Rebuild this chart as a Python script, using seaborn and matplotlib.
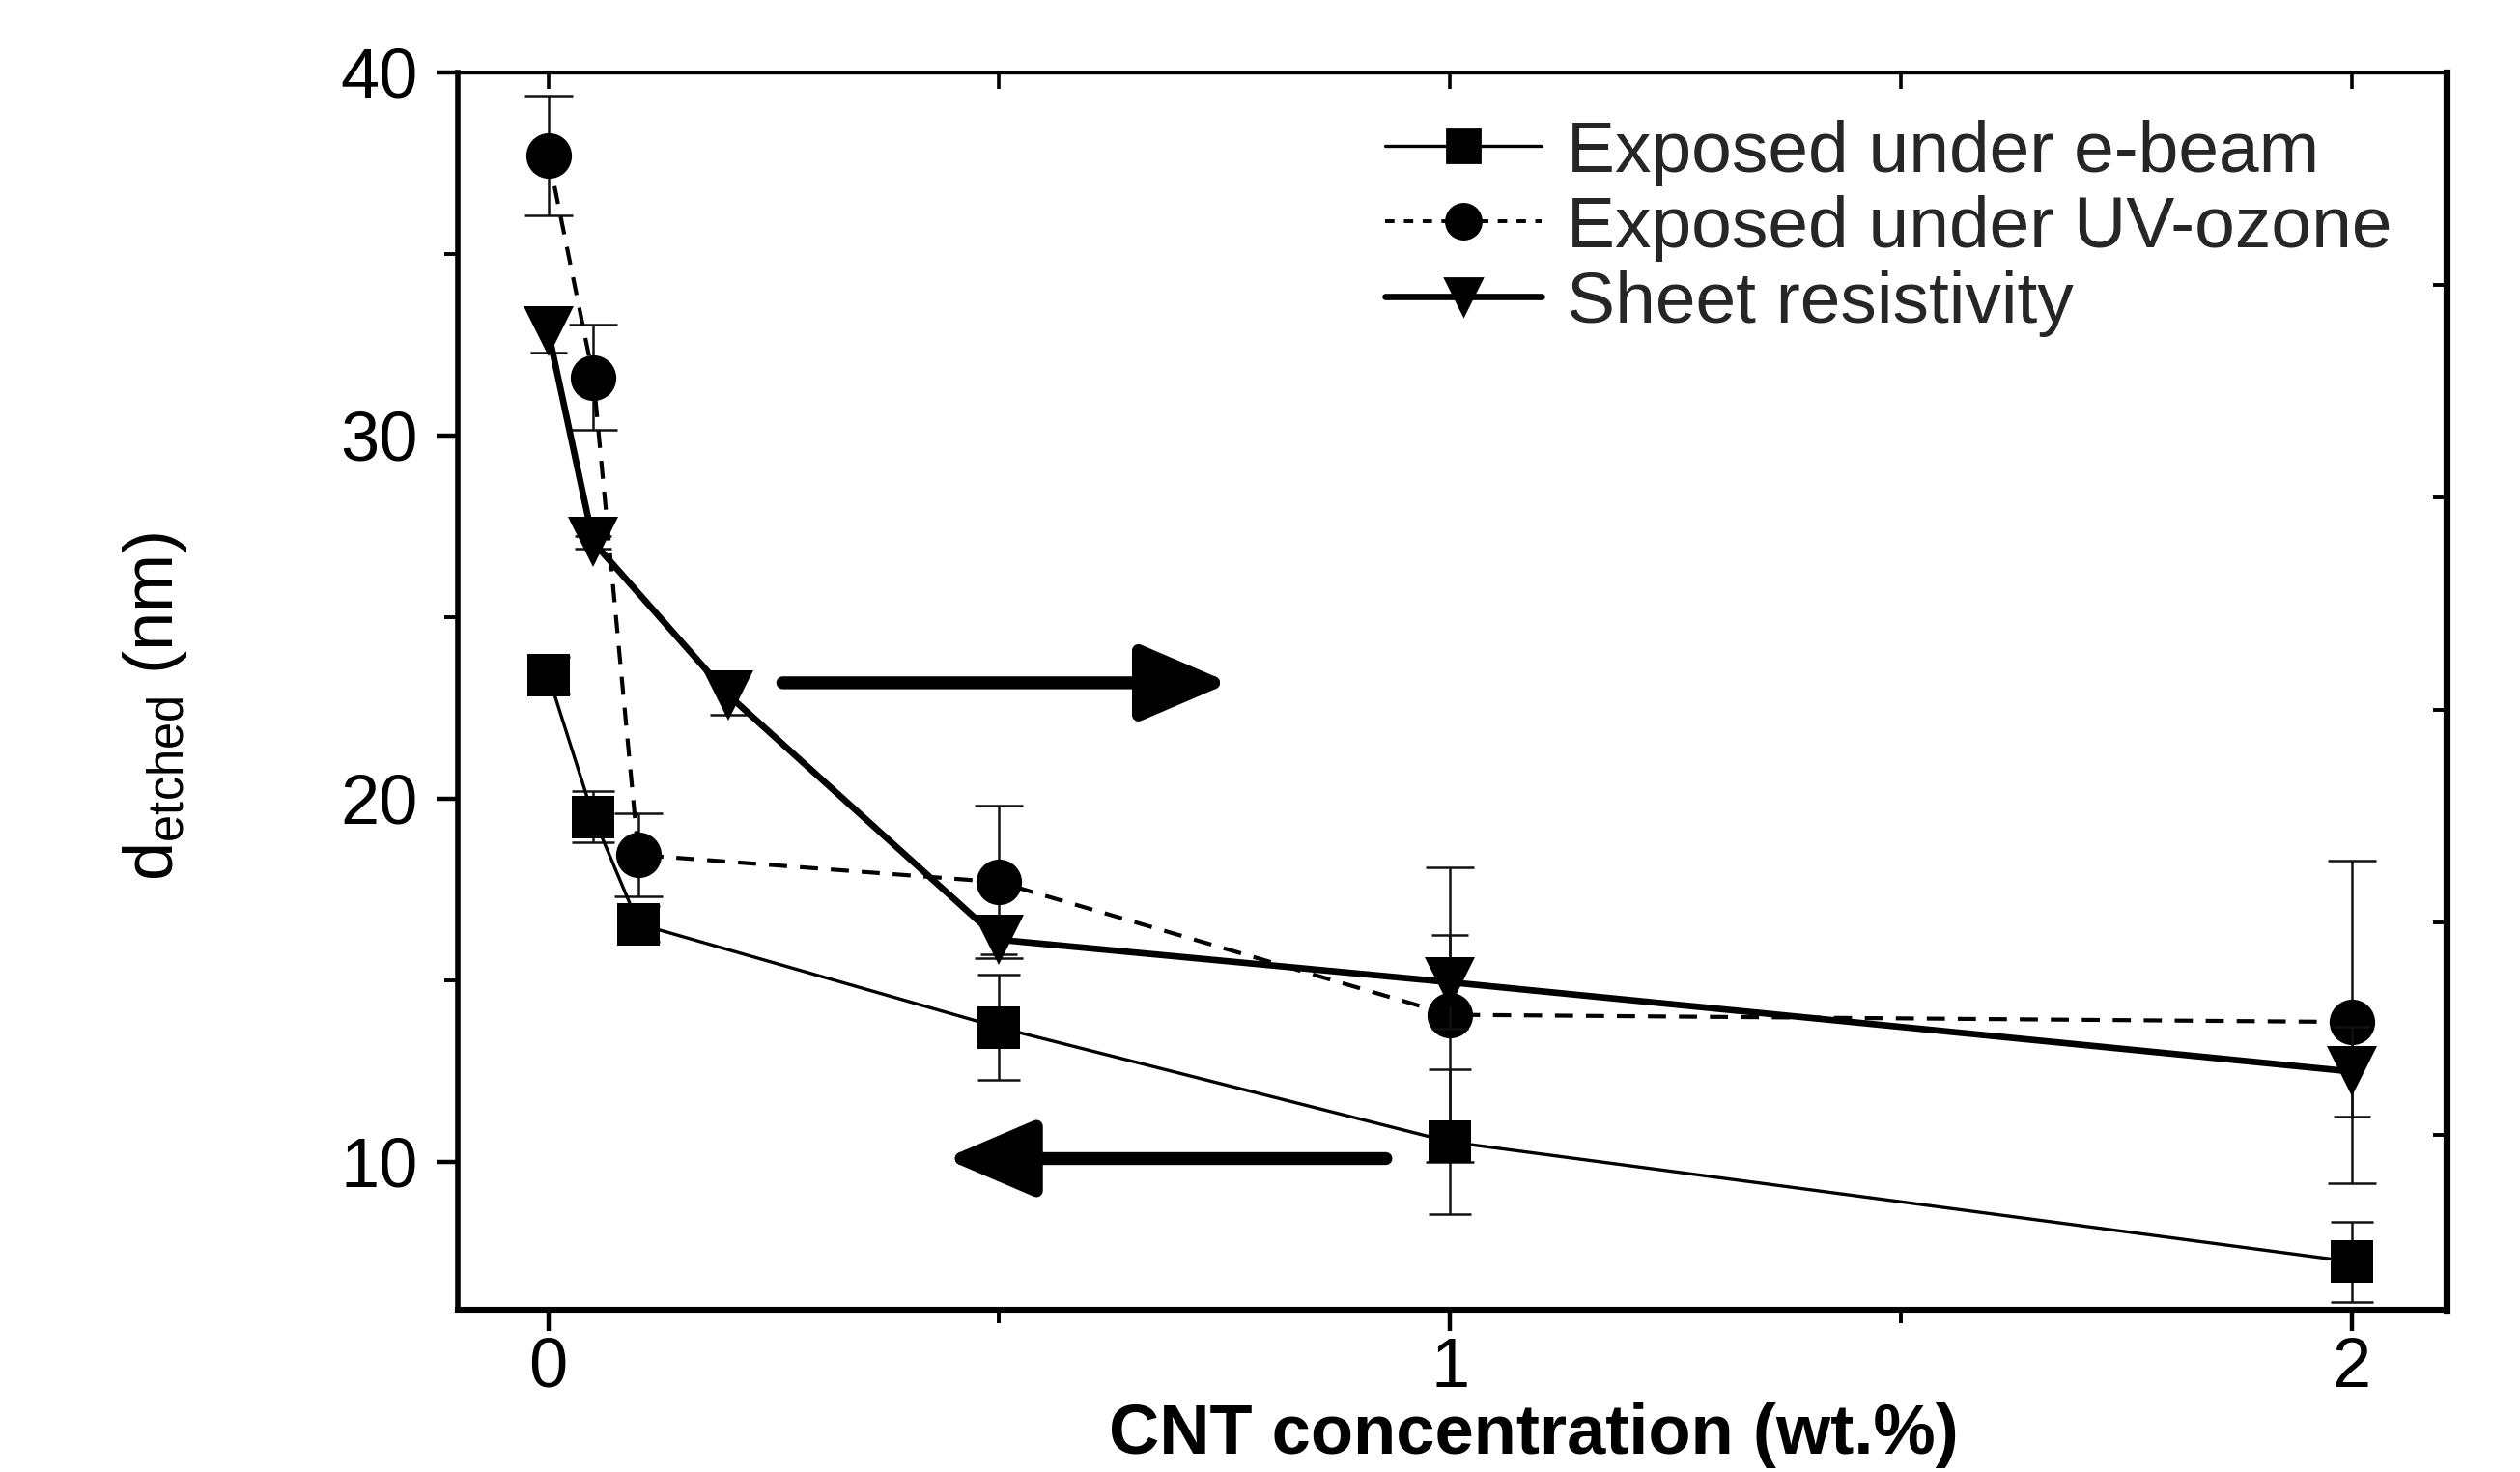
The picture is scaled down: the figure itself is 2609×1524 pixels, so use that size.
import numpy as np
import pandas as pd
import matplotlib
matplotlib.use("Agg")
import matplotlib.pyplot as plt
import seaborn as sns
from matplotlib.lines import Line2D
from matplotlib.ticker import MultipleLocator, FixedLocator

# ---------------- data ----------------
conc_ebeam = [0, 0.05, 0.1, 0.5, 1, 2]
d_ebeam = [23.4, 19.5, 16.55, 13.7, 10.55, 7.25]
err_ebeam = [0.5, 0.7, 0.5, 1.45, 2.0, 1.1]

conc_uv = [0, 0.05, 0.1, 0.5, 1, 2]
d_uv = [37.7, 31.6, 18.45, 17.7, 14.05, 13.85]
err_uv = [1.65, 1.45, 1.15, 2.1, 4.05, 4.45]

conc_rs = [0, 0.05, 0.2, 0.5, 1, 2]
sheet_res = [5.78, 4.79, 4.07, 2.92, 2.72, 2.30]
err_rs = [0.10, 0.03, 0.09, 0.07, 0.22, 0.21]

labels = ["Exposed under e-beam", "Exposed under UV-ozone", "Sheet resistivity"]
x_ticks = [0, 1, 2]
y_ticks = [10, 20, 30, 40]
right_ticks = [2, 3, 4, 5, 6]

# ---------------- style ----------------
sns.set_theme(style="ticks")
plt.rcParams["font.family"] = ["Liberation Sans", "DejaVu Sans"]
plt.rcParams["mathtext.fontset"] = "custom"
plt.rcParams["mathtext.rm"] = "Liberation Sans"
plt.rcParams["mathtext.it"] = "Liberation Sans:italic"
plt.rcParams["mathtext.bf"] = "Liberation Sans:bold"

fig = plt.figure(figsize=(2609 / 200, 1524 / 200), dpi=200)
ax = fig.add_axes([0.1818, 0.1103, 0.7889, 0.8406])
ax2 = ax.twinx()

df_e = pd.DataFrame({"x": conc_ebeam, "y": d_ebeam})
df_u = pd.DataFrame({"x": conc_uv, "y": d_uv})
df_r = pd.DataFrame({"x": conc_rs, "y": sheet_res})

# error bars first (under markers)
ax.errorbar(conc_ebeam, d_ebeam, yerr=err_ebeam, fmt="none", ecolor="#111111",
            elinewidth=0.9, capsize=8, capthick=0.9, zorder=2)
ax.errorbar(conc_uv, d_uv, yerr=err_uv, fmt="none", ecolor="#111111",
            elinewidth=0.9, capsize=9, capthick=0.9, zorder=2)
ax2.errorbar(conc_rs, sheet_res, yerr=err_rs, fmt="none", ecolor="#111111",
             elinewidth=0.9, capsize=7, capthick=0.9, zorder=2)

sns.lineplot(data=df_e, x="x", y="y", ax=ax, sort=False, estimator=None,
             color="black", linewidth=1.2, marker="s", markersize=16,
             markeredgewidth=0, legend=False, zorder=3)
sns.lineplot(data=df_u, x="x", y="y", ax=ax, sort=False, estimator=None,
             color="black", linewidth=1.5, linestyle=(0, (4.5, 3.2)), marker="o",
             markersize=17, markeredgewidth=0, legend=False, zorder=3)
sns.lineplot(data=df_r, x="x", y="y", ax=ax2, sort=False, estimator=None,
             color="black", linewidth=2.4, marker="v", markersize=19,
             markeredgewidth=0, legend=False, zorder=3)

# ---------------- axes ----------------
ax.set_xlim(-0.1, 2.105)
ax.set_ylim(5.93, 40)
ax2.set_ylim(1.18, 7.0)

ax.xaxis.set_major_locator(FixedLocator(x_ticks))
ax.xaxis.set_minor_locator(MultipleLocator(0.5))
ax.yaxis.set_major_locator(FixedLocator(y_ticks))
ax.yaxis.set_minor_locator(MultipleLocator(5))
ax.set_xticklabels([str(t) for t in x_ticks])
ax.set_yticklabels([str(t) for t in y_ticks])

ax.tick_params(axis="both", which="major", direction="out", length=8,
               width=1.6, colors="black", labelsize=26, pad=7)
ax.tick_params(axis="both", which="minor", direction="out", length=5,
               width=1.4, colors="black")
ax.tick_params(axis="x", which="major", pad=2)
ax.tick_params(right=False, top=False, which="both")

# top ticks pointing in
sec = ax.secondary_xaxis("top")
sec.xaxis.set_major_locator(FixedLocator(x_ticks))
sec.xaxis.set_minor_locator(MultipleLocator(0.5))
sec.tick_params(which="both", direction="in", length=6, width=1.3,
                labeltop=False, colors="black")
sec.spines["top"].set_visible(False)

# right ticks pointing in (sheet resistivity axis)
ax2.yaxis.set_major_locator(FixedLocator(right_ticks))
ax2.yaxis.set_minor_locator(FixedLocator([]))
ax2.tick_params(axis="y", which="both", direction="in", length=5, width=1.4,
                labelright=False, colors="black")
for s in ax2.spines.values():
    s.set_visible(False)

ax.spines["left"].set_linewidth(2.0)
ax.spines["bottom"].set_linewidth(2.2)
ax.spines["top"].set_linewidth(1.2)
ax.spines["right"].set_linewidth(2.6)
for s in ax.spines.values():
    s.set_color("black")
    s.set_visible(True)

ax.set_xlabel("CNT concentration (wt.%)", fontsize=26, fontweight="bold",
              color="black")
ax.xaxis.set_label_coords(0.541, -0.0753)
ax.set_ylabel(r"d$_{\mathrm{etched}}$ (nm)", fontsize=26, color="black")
ax.yaxis.set_label_coords(-0.135, 0.487)
ax2.set_ylabel("")

# arrows
ax.annotate("", xy=(0.756, 23.19), xytext=(0.26, 23.19),
            arrowprops=dict(arrowstyle="-|>,head_length=1.4,head_width=0.6",
                            lw=4.8, color="black", mutation_scale=20,
                            shrinkA=0, shrinkB=0), zorder=4)
ax.annotate("", xy=(0.44, 10.09), xytext=(0.929, 10.09),
            arrowprops=dict(arrowstyle="-|>,head_length=1.4,head_width=0.6",
                            lw=4.8, color="black", mutation_scale=20,
                            shrinkA=0, shrinkB=0), zorder=4)

# legend
handles = [
    Line2D([], [], color="black", lw=1.2, marker="s", markersize=12),
    Line2D([], [], color="black", lw=1.4, linestyle=(0, (2.5, 2.5)), marker="o", markersize=13),
    Line2D([], [], color="black", lw=2.4, marker="v", markersize=14),
]
ax2.legend(handles, labels, loc="upper left", bbox_to_anchor=(0.4665, 0.962),
           frameon=False, fontsize=27, handlelength=2.15, handletextpad=0.35,
           labelspacing=0.12, borderpad=0, borderaxespad=0)

fig.savefig("out.png", dpi=200, facecolor="white")
